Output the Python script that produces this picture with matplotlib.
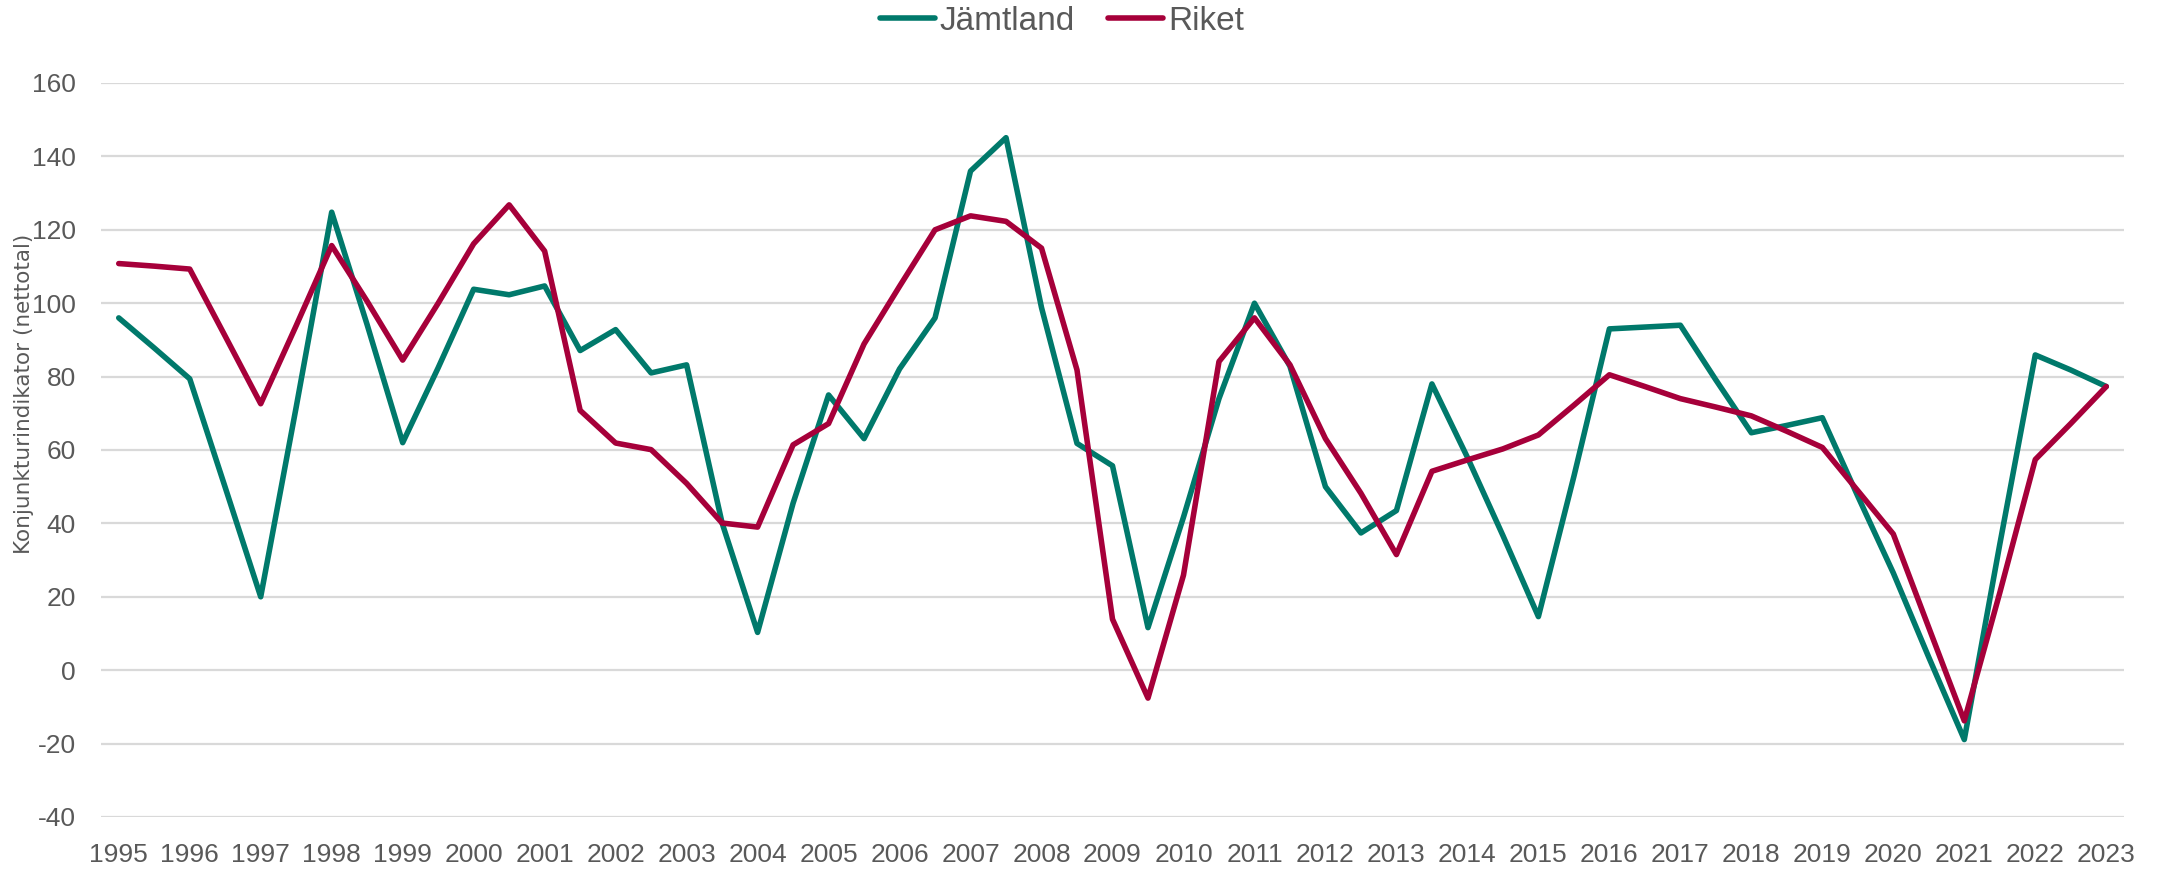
import matplotlib
matplotlib.use('Agg')
import matplotlib.pyplot as plt

# half-year series, 1995 .. 2023
periods = [1995 + 0.5 * i for i in range(57)]
years = list(range(1995, 2024))

jamtland = [96.0, 87.8, 79.4, 49.8, 20.0, 71.7, 124.8, 94.1, 62.0, 82.4,
            103.8, 102.3, 104.7, 87.1, 92.8, 81.0, 83.2, 40.1, 10.3, 45.5,
            75.0, 63.1, 82.1, 96.0, 136.0, 145.1, 98.8, 61.8, 55.7, 11.6,
            41.7, 74.0, 100.0, 82.8, 50.0, 37.4, 43.5, 78.0, 58.0, 36.7,
            14.6, 52.8, 93.0, 93.5, 94.0, 79.1, 64.7, 66.7, 68.8, 47.4,
            26.5, 3.5, -18.9, 34.3, 85.9, 81.8, 77.3]

riket = [110.8, 110.1, 109.3, 91.0, 72.6, 93.9, 115.7, 100.5, 84.5, 100.0,
         116.2, 126.8, 114.2, 70.8, 61.9, 60.1, 50.9, 40.1, 39.0, 61.4,
         67.2, 88.9, 104.6, 120.0, 123.8, 122.3, 115.0, 81.8, 13.9, -7.6,
         25.9, 84.1, 96.0, 83.2, 63.1, 48.2, 31.5, 54.2, 57.3, 60.3,
         64.1, 72.2, 80.5, 77.3, 74.0, 71.7, 69.3, 65.1, 60.7, 48.9,
         37.1, 11.6, -13.8, 21.1, 57.4, 67.2, 77.3]

green = '#00796B'
red = '#A6003A'
grey = '#595959'

plt.rcParams['font.family'] = ['Liberation Sans', 'DejaVu Sans']
plt.rcParams['axes.unicode_minus'] = False

fig = plt.figure(figsize=(21.61, 8.69), dpi=100)
ax = fig.add_axes([101/2161, 52/869, 2023/2161, 734/869])

ax.plot(periods, jamtland, color=green, lw=4, label='Jämtland',
        solid_joinstyle='round', solid_capstyle='round')
ax.plot(periods, riket, color=red, lw=4, label='Riket',
        solid_joinstyle='round', solid_capstyle='round')

ax.set_xlim(1995 - 0.25, 2023 + 0.25)
ax.set_ylim(-40, 160)
ax.set_yticks(range(-40, 161, 20))
ax.set_xticks(years)
ax.set_xticklabels([str(y) for y in years])

ax.grid(axis='y', color='#D9D9D9', lw=1.6)
ax.set_axisbelow(True)
for s in ax.spines.values():
    s.set_visible(False)
ax.tick_params(axis='both', length=0, labelsize=19, labelcolor=grey)
ax.tick_params(axis='y', pad=18)
ax.tick_params(axis='x', pad=19)

fig.text(24/2161, 1 - 394/869, 'Konjunkturindikator (nettotal)', rotation=90,
         ha='center', va='center', fontsize=15.5, color=grey,
         family='DejaVu Sans')

fig.legend(loc='center', bbox_to_anchor=(1062/2161, 1 - 21/869), ncol=2,
           frameon=False, fontsize=24, labelcolor=grey, handlelength=1.65,
           handletextpad=0.15, columnspacing=1.0)

fig.savefig('out.png', dpi=100)
